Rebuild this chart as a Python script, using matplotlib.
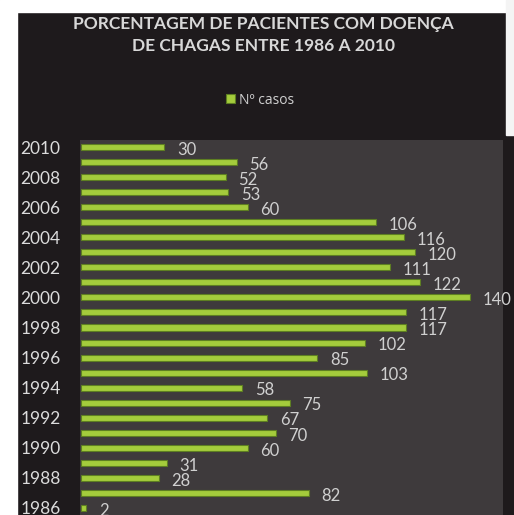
import numpy as np
import matplotlib.pyplot as plt
from matplotlib.patches import Rectangle

plt.rcParams['font.family'] = ['Lato', 'DejaVu Sans']

# dados
anos = np.arange(1986, 2011)
casos = [2, 82, 28, 31, 60, 70, 67, 75, 58, 103, 85, 102, 117,
         117, 140, 122, 111, 120, 116, 106, 60, 53, 52, 56, 30]
anos_rotulo = np.arange(1986, 2011, 2)

titulo = 'PORCENTAGEM DE PACIENTES COM DOENÇA\nDE CHAGAS ENTRE 1986 A 2010'
legenda = 'Nº casos'

W, H = 514, 515
fig = plt.figure(figsize=(W / 100, H / 100), dpi=100, facecolor='#1e1a1c')

# moldura branca da foto
fig.patches.append(Rectangle((0, 0), 17 / W, 1, transform=fig.transFigure,
                             color='white', zorder=-1))
fig.patches.append(Rectangle((0, 1 - 12 / H), 1, 12 / H, transform=fig.transFigure,
                             color='white', zorder=-1))
fig.patches.append(Rectangle((506 / W, 1 - 135 / H), 8 / W, 135 / H,
                             transform=fig.transFigure, color='#f4f4f4', zorder=-1))

ax = fig.add_axes([80 / W, 0, 423 / W, (H - 140) / H])
ax.set_facecolor('#3e3a3c')

barras = ax.barh(anos, casos, height=0.4, color='#a4cc3c',
                 edgecolor='#5e7f22', linewidth=0.8, label=legenda)

for a, c in zip(anos, casos):
    ax.annotate(str(c), (c, a), xytext=(9, -2), textcoords='offset points',
                ha='left', va='center', color='#d0d0d0', fontsize=12)

ax.set_xlim(-0.3, 151.7)
ax.set_ylim(1985.53, 2010.47)
ax.set_xticks([])
ax.set_yticks(anos_rotulo)
ax.set_yticklabels([str(a) for a in anos_rotulo], ha='left',
                   color='#dcdcdc', fontsize=12.5)
ax.tick_params(axis='y', length=0, pad=43)
for s in ax.spines.values():
    s.set_visible(False)

fig.text(263 / W, 1 - 35 / H, titulo, ha='center', va='center',
         color='#d8d8d8', fontsize=12.5, fontweight='bold', linespacing=1.4)

fig.legend(handles=[barras], labels=[legenda], loc='center',
           bbox_to_anchor=(260 / W, 1 - 100 / H), frameon=False,
           handlelength=0.6, handleheight=0.6, handletextpad=0.3,
           labelcolor='#d0d0d0', prop={'family': 'Open Sans', 'size': 10})

fig.savefig('out.png', dpi=100, facecolor=fig.get_facecolor())
